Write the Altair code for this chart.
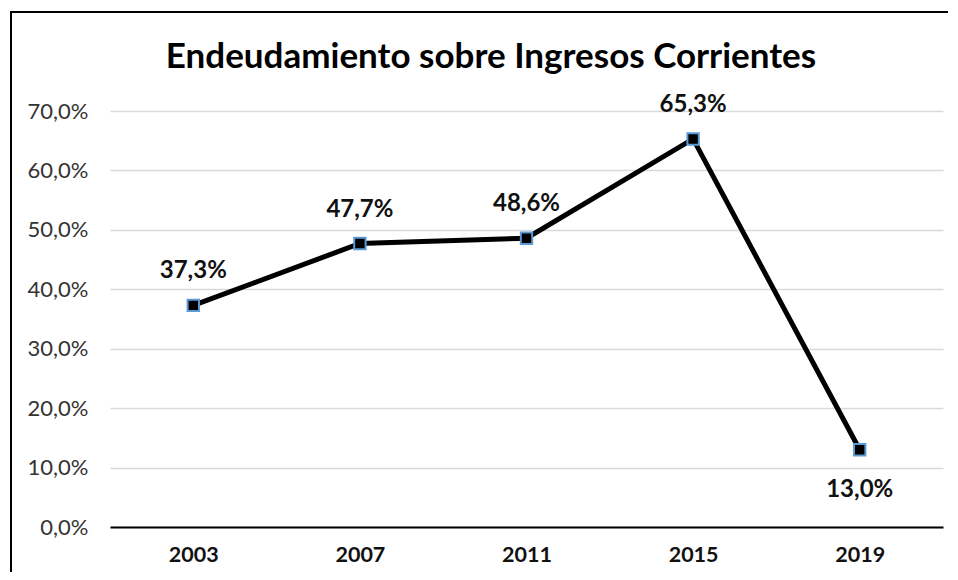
import altair as alt
import pandas as pd

years = ["2003", "2007", "2011", "2015", "2019"]
values = [37.3, 47.7, 48.6, 65.3, 13.0]
label_dy = [-34, -33, -33, -34, 40]
title_text = "Endeudamiento sobre Ingresos Corrientes"

df = pd.DataFrame({"year": years, "value": values, "dy": label_dy})

FONT = "Lato"

x = alt.X("year:N", sort=years, title=None,
          scale=alt.Scale(paddingInner=0, paddingOuter=0),
          axis=alt.Axis(labelAngle=0, labelFont=FONT, labelFontSize=21.5, labelFontWeight="bold",
                        labelColor="#111", ticks=False, domainColor="#000", domainWidth=2,
                        labelPadding=17, grid=False))
y = alt.Y("value:Q", title=None,
          scale=alt.Scale(domain=[0, 70], nice=False),
          axis=alt.Axis(values=[0, 10, 20, 30, 40, 50, 60, 70],
                        labelExpr="replace(format(datum.value, '.1f'), '.', ',') + '%'",
                        labelFont=FONT, labelFontSize=22, labelColor="#333",
                        ticks=False, domain=False, labelPadding=22,
                        gridColor="#d9d9d9", gridWidth=1.5))

base = alt.Chart(df)

line = base.mark_line(color="#000", strokeWidth=5).encode(x=x, y=y)
pts = base.mark_point(shape="square", size=130, filled=True, fill="#000",
                      stroke="#5b9bd5", strokeWidth=2, opacity=1).encode(x=x, y=y)

labels_up = base.transform_filter("datum.dy < 0").transform_calculate(
    lab="replace(format(datum.value, '.1f'), '.', ',') + '%'"
).mark_text(font=FONT, fontSize=24, fontWeight="bold", color="#111", dy=-34,
            baseline="middle").encode(x=x, y=y, text="lab:N")
labels_down = base.transform_filter("datum.dy > 0").transform_calculate(
    lab="replace(format(datum.value, '.1f'), '.', ',') + '%'"
).mark_text(font=FONT, fontSize=24, fontWeight="bold", color="#111", dy=40,
            baseline="middle").encode(x=x, y=y, text="lab:N")

one = pd.DataFrame({"t": [title_text]})
title = alt.Chart(one).mark_text(font=FONT, fontSize=35, fontWeight="bold", color="#000",
                                 baseline="middle", align="center").encode(
    x=alt.value(381), y=alt.value(-54), text="t:N")

frame_v = alt.Chart(one).mark_rule(color="#000", strokeWidth=2).encode(
    x=alt.value(-99), y=alt.value(-100), y2=alt.value(470))
frame_h = alt.Chart(one).mark_rule(color="#000", strokeWidth=2).encode(
    y=alt.value(-99), x=alt.value(-100), x2=alt.value(900))

chart = alt.layer(line, pts, labels_up, labels_down, title, frame_v, frame_h).properties(
    width=833, height=416,
    autosize=alt.AutoSizeParams(type="none"),
    padding={"left": 102, "top": 103, "right": 5, "bottom": 45},
).configure(background="white").configure_view(stroke="transparent", strokeWidth=0)

chart.save("out.html", embed_options={"renderer": "svg", "actions": False})
